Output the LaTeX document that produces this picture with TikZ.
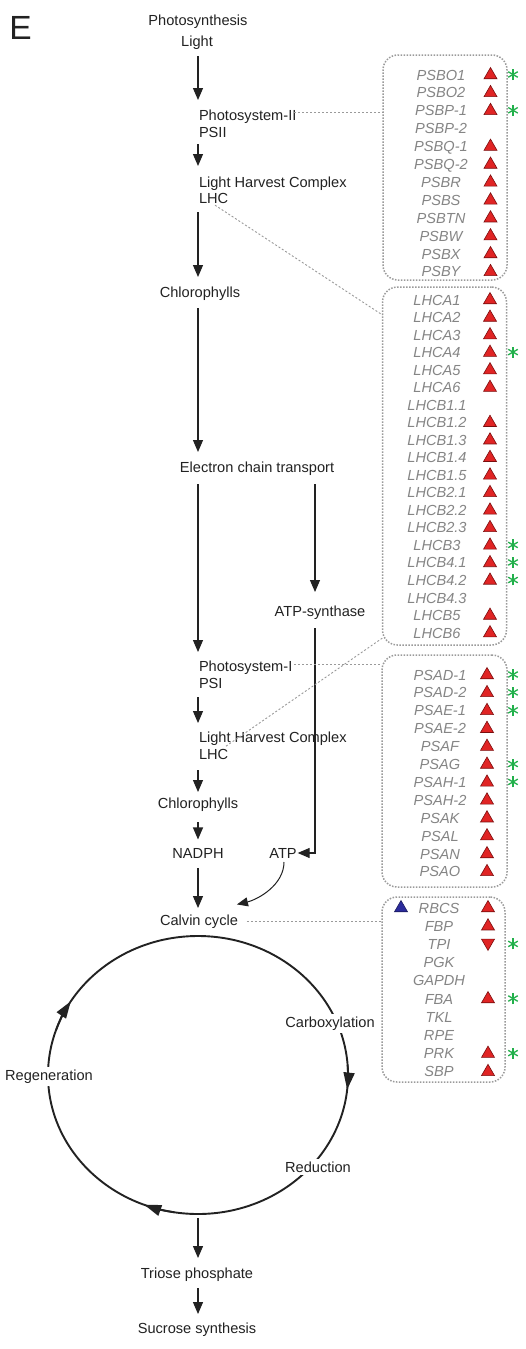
\documentclass[tikz,border=0pt]{standalone}
\usepackage{fontspec}
\setmainfont{Liberation Sans}
\usetikzlibrary{arrows.meta,shapes.geometric,calc}
\definecolor{txt}{HTML}{222222}
\definecolor{genec}{HTML}{858585}
\definecolor{redf}{HTML}{E02424}
\definecolor{redd}{HTML}{7A0E0E}
\definecolor{bluef}{HTML}{2B2B9C}
\definecolor{astc}{HTML}{22B04B}
\definecolor{dotc}{HTML}{9A9A9A}
\tikzset{
  lbl/.style={anchor=base},
  lbll/.style={anchor=base west, align=left},
  gene/.style={anchor=base, text=genec, font=\fontsize{14.6}{17}\selectfont\itshape},
  uptri/.style={regular polygon, regular polygon sides=3, minimum size=15pt, inner sep=0pt, fill=redf, draw=redd, line width=0.6pt},
  dntri/.style={uptri, shape border rotate=180},
  arr/.style={draw=txt, line width=1.2pt, -{Triangle[length=12pt,width=10pt]}},
  arrthin/.style={draw=txt, line width=1pt, -{Triangle[length=11pt,width=9pt]}},
  cycarr/.style={draw=txt, line width=1.8pt, -{Triangle[length=17pt,width=11pt]}},
  conn/.style={draw=dotc, line width=0.9pt, dash pattern=on 2pt off 2pt},
  gbox/.style={draw=dotc, line width=1.5pt, dash pattern=on 1.5pt off 1.5pt, rounded corners=15pt, inner sep=0pt},
  ast/.pic={\foreach \a in {90,30,150}{\draw[astc, line width=1.3pt] (\a:5.5) -- (\a+180:5.5);}}
}
\newcommand\genebox[6]{%
  \foreach \g/\tr/\st [count=\i from 0] in {#6}{
    \node[gene] (#1-\i) at (#2, #4+#5*\i) {\g};
    \ifnum\tr=1 \node[uptri] (#1t-\i) at (#3, #4-5+#5*\i) {};\fi
    \ifnum\tr=2 \node[dntri] (#1t-\i) at (#3, #4-6.5+#5*\i) {};\fi
    \ifnum\st=1 \pic at (513, #4-5.5+#5*\i) {ast};\fi
  }}
\begin{document}
\begin{tikzpicture}[x=1pt,y=-1pt,
  every node/.style={inner sep=0pt, outer sep=0pt, text=txt, font=\fontsize{14.6}{17}\selectfont}]
\fill[white] (0,0) rectangle (525,1349);
\useasboundingbox (0,0) rectangle (525,1349);

\coordinate (col) at (198,0);
\coordinate (col2) at (315,0);

% boxes
\node[gbox, minimum width=124pt, minimum height=225pt] (b1) at (445,167.5) {};
\node[gbox, minimum width=124pt, minimum height=358pt] (b2) at (444.5,466) {};
\node[gbox, minimum width=125pt, minimum height=232pt] (b3) at (444.5,771) {};
\node[gbox, minimum width=123pt, minimum height=185pt] (b4) at (443.5,989.5) {};

% left column labels
\node[anchor=base west, font=\fontsize{33.5}{40}\selectfont] (E) at (9.4,39) {E};
\node[lbl] (photo) at (198,25) {Photosynthesis};
\node[lbl] (light) at (197,46) {Light};
\node[lbll] (ps2) at (199,137) {Photosystem-II\\PSII};
\node[lbll, font=\fontsize{14.6}{16}\selectfont] (lhc1) at (199,203) {Light Harvest Complex\\LHC};
\node[lbl] (chl1) at (200,297) {Chlorophylls};
\node[lbl] (ect) at (257,472) {Electron chain transport};
\node[lbl] (atps) at (320,616) {ATP-synthase};
\node[lbll] (ps1) at (199,688) {Photosystem-I\\PSI};
\node[lbll] (lhc2) at (199,759) {Light Harvest Complex\\LHC};
\node[lbl] (chl2) at (198,808) {Chlorophylls};
\node[lbl] (nadph) at (198,858) {NADPH};
\node[lbl] (atp) at (283,858) {ATP};
\node[lbl] (calvin) at (199,925) {Calvin cycle};

% cycle
\node[draw=txt, ellipse, minimum width=300pt, minimum height=278pt, line width=1.9pt] (cyc) at (198,1075) {};
\draw[cycarr] ($(cyc.center)+(-4:150 and 139)$) arc[start angle=-4, end angle=6, x radius=150, y radius=139];
\draw[cycarr] ($(cyc.center)+(199:150 and 139)$) arc[start angle=199, end angle=212, x radius=150, y radius=139];
\draw[cycarr] ($(cyc.center)+(99:150 and 139)$) arc[start angle=99, end angle=111, x radius=150, y radius=139];
\node[lbl, fill=white, inner sep=2.5pt] (carb) at (330,1027) {Carboxylation};
\node[lbl, fill=white, inner sep=2.5pt] (regen) at (49,1080) {Regeneration};
\node[lbl, fill=white, inner sep=2.5pt] (red) at (318,1172) {Reduction};
\node[lbl] (triose) at (197,1278) {Triose phosphate};
\node[lbl] (sucrose) at (197,1333) {Sucrose synthesis};

% arrows
\draw[arr, shorten <=7pt, shorten >=9.4pt] (light.south -| col) -- (ps2.north -| col);
\draw[arr, shorten <=7pt, shorten >=10.4pt] (ps2.south -| col) -- (lhc1.north -| col);
\draw[arr, shorten <=9pt, shorten >=9.4pt] (lhc1.south -| col) -- (chl1.north -| col);
\draw[arr, shorten <=8pt, shorten >=9.4pt] (chl1.south -| col) -- (ect.north -| col);
\draw[arr, shorten <=9pt, shorten >=8.4pt] (ect.south -| col) -- (ps1.north -| col);
\draw[arr, shorten <=9pt, shorten >=13.4pt] (ect.south -| col2) -- (atps.north -| col2);
\draw[arr, shorten <=9pt, shorten >=1pt] (atps.south -| col2) |- (atp.east);
\draw[arr, shorten <=9pt, shorten >=8.4pt] (ps1.south -| col) -- (lhc2.north -| col);
\draw[arr, shorten <=11pt, shorten >=5.4pt] (lhc2.south -| col) -- (chl2.north -| col);
\draw[arr, shorten <=11pt, shorten >=8.5pt] (chl2.south -| col) -- (nadph.north -| col);
\draw[arr, shorten <=10pt, shorten >=6.4pt] (nadph.south -| col) -- (calvin.north -| col);
\draw[arrthin] ($(atp.south)+(1,4)$) .. controls +(0,23) and +(21,-5) .. ($(calvin.north east)+(-1,-10)$);
\draw[arr, shorten <=4pt, shorten >=9.4pt] (cyc.south -| col) -- (triose.north -| col);
\draw[arr, shorten <=7pt, shorten >=8.4pt] (triose.south -| col) -- (sucrose.north -| col);

% dotted connectors
\coordinate (p2a) at ($(ps2.north east)+(-2,3)$);
\draw[conn] (p2a) -- (p2a -| b1.west);
\coordinate (p1a) at ($(ps1.north east)+(2,4.5)$);
\draw[conn] (p1a) -- (p1a -| b3.west);
\draw[conn] ($(lhc1.south west)+(16,2)$) -- ($(b2.north west)+(0,28)$);
\draw[conn] ($(lhc2.south west)+(27,-13)$) -- ($(b2.south west)+(0,-7)$);
\draw[conn] ($(calvin.east)+(9,0)$) -- (calvin.east -| b4.west);

% gene lists
\genebox{pa}{441}{490.5}{80}{17.9}{PSBO1/1/1, PSBO2/1/0, PSBP-1/1/1, PSBP-2/0/0, PSBQ-1/1/0, PSBQ-2/1/0, PSBR/1/0, PSBS/1/0, PSBTN/1/0, PSBW/1/0, PSBX/1/0, PSBY/1/0}
\genebox{lh}{437}{490}{305}{17.53}{LHCA1/1/0, LHCA2/1/0, LHCA3/1/0, LHCA4/1/1, LHCA5/1/0, LHCA6/1/0, LHCB1.1/0/0, LHCB1.2/1/0, LHCB1.3/1/0, LHCB1.4/1/0, LHCB1.5/1/0, LHCB2.1/1/0, LHCB2.2/1/0, LHCB2.3/1/0, LHCB3/1/1, LHCB4.1/1/1, LHCB4.2/1/1, LHCB4.3/0/0, LHCB5/1/0, LHCB6/1/0}
\genebox{ps}{440}{487}{680}{17.9}{PSAD-1/1/1, PSAD-2/1/1, PSAE-1/1/1, PSAE-2/1/0, PSAF/1/0, PSAG/1/1, PSAH-1/1/1, PSAH-2/1/0, PSAK/1/0, PSAL/1/0, PSAN/1/0, PSAO/1/0}
\genebox{cv}{439}{488}{913}{18.2}{RBCS/1/0, FBP/1/0, TPI/2/1, PGK/0/0, GAPDH/0/0, FBA/1/1, TKL/0/0, RPE/0/0, PRK/1/1, SBP/1/0}
\node[uptri, fill=bluef, draw=bluef!60!black] (rbcsb) at (401,908) {};
\end{tikzpicture}
\end{document}
